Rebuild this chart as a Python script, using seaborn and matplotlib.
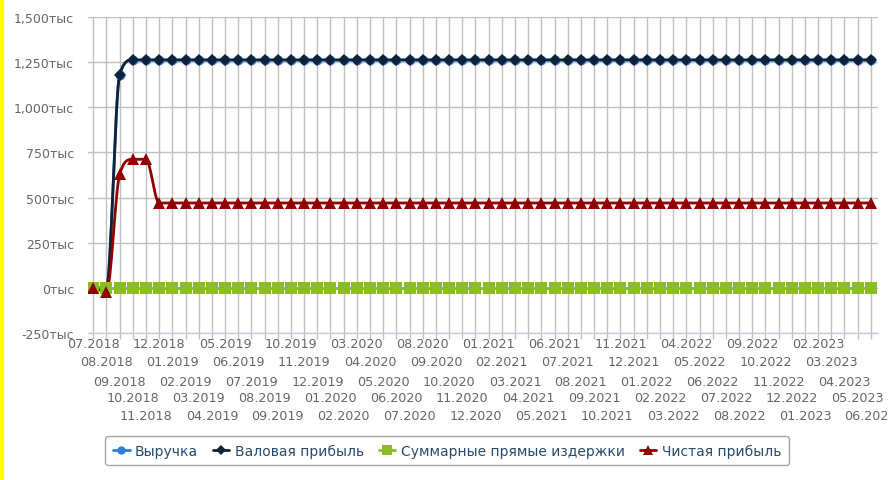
import numpy as np
import pandas as pd
import seaborn as sns
import matplotlib.pyplot as plt
from matplotlib.lines import Line2D
from matplotlib.patches import Rectangle

# months 07.2018 .. 06.2023
months = pd.period_range("2018-07", "2023-06", freq="M")
month_labels = [p.strftime("%m.%Y") for p in months]

n = len(months)
revenue = [0, 0, 1180] + [1262] * (n - 3)
gross_profit = [0, 0, 1180] + [1262] * (n - 3)
direct_costs = [0] * n
net_profit = [0, -25, 628, 712, 712, 470] + [470] * (n - 6)

series_names = ["Выручка", "Валовая прибыль", "Суммарные прямые издержки", "Чистая прибыль"]
series_values = [revenue, gross_profit, direct_costs, net_profit]
colors = ["#2f7ed8", "#0d233a", "#8bbc21", "#910000"]
markers = ["o", "D", "s", "^"]
msizes = [7, 6, 8, 8]

y_ticks = [-250, 0, 250, 500, 750, 1000, 1250, 1500]


def spline(x, y, steps=16):
    # monotone cubic curve through the data points (drawing only)
    x = np.asarray(x, float)
    y = np.asarray(y, float)
    d = np.diff(y)
    m = np.zeros_like(y)
    for i in range(1, len(y) - 1):
        if d[i - 1] * d[i] > 0:
            m[i] = (d[i - 1] + d[i]) / 2
            m[i] = np.sign(m[i]) * min(abs(m[i]), 3 * abs(d[i - 1]), 3 * abs(d[i]))
    xs, ys = [], []
    t = np.linspace(0, 1, steps, endpoint=False)
    h00 = 2 * t**3 - 3 * t**2 + 1
    h10 = t**3 - 2 * t**2 + t
    h01 = -2 * t**3 + 3 * t**2
    h11 = t**3 - t**2
    for i in range(len(x) - 1):
        xs.extend(x[i] + t)
        ys.extend(h00 * y[i] + h10 * m[i] + h01 * y[i + 1] + h11 * m[i + 1])
    xs.append(x[-1])
    ys.append(y[-1])
    return np.array(xs), np.array(ys)


sns.set_style("white")
plt.rcParams["font.family"] = ["DejaVu Sans"]

fig = plt.figure(figsize=(8.89, 4.81), dpi=100)
fig.patches.append(Rectangle((0, 0), 3 / 889, 1, transform=fig.transFigure,
                             color="#ffff00", zorder=0))
ax = fig.add_axes([88 / 889, 1 - 334 / 481, (877.7 - 88) / 889, (334 - 18) / 481])

x = np.arange(n)
for name, vals, c, m, ms in zip(series_names, series_values, colors, markers, msizes):
    sx, sy = spline(x, vals)
    curve = pd.DataFrame({"x": sx, "y": sy})
    sns.lineplot(data=curve, x="x", y="y", color=c, linewidth=2, sort=False,
                 ax=ax, zorder=3)
    pts = pd.DataFrame({"x": x, "y": vals})
    ax.plot(pts["x"], pts["y"], linestyle="none", marker=m, markersize=ms,
            color=c, markeredgewidth=0, zorder=4)

ax.set_xlim(-0.4, 59.52)
ax.set_ylim(-250, 1500)
ax.set_xlabel("")
ax.set_ylabel("")

ax.set_yticks(y_ticks)
ax.set_yticklabels([f"{v:,}тыс" for v in y_ticks], fontsize=9, color="#666666")
ax.tick_params(axis="y", length=0, pad=10)

# staggered month labels, five rows
ax.set_xticks(x)
ax.set_xticklabels([])
ax.tick_params(axis="x", length=4, width=1, color="#c0c0c0", direction="out")
ax.xaxis.set_ticks_position("bottom")
row_offsets = [11, 29, 48, 65, 83]
for i, lab in enumerate(month_labels):
    ax.annotate(lab, xy=(i, 0), xycoords=("data", "axes fraction"),
                xytext=(0, -row_offsets[i % 5] * 0.72), textcoords="offset points",
                ha="center", va="center", fontsize=9.2, color="#666666",
                annotation_clip=False)

ax.grid(True, color="#c0c0c0", linewidth=1)
for s in ["top", "right", "left"]:
    ax.spines[s].set_visible(False)
ax.spines["bottom"].set_color("#c0d0e0")
ax.spines["bottom"].set_linewidth(1)
ax.set_axisbelow(True)

handles = [Line2D([0], [0], color=c, marker=m, markersize=ms - 1, linewidth=2,
                  markeredgewidth=0)
           for c, m, ms in zip(colors, markers, msizes)]
leg = fig.legend(handles, series_names, loc="center", ncol=4,
                 bbox_to_anchor=(447 / 889, 1 - 451.5 / 481), frameon=True,
                 fontsize=10, handlelength=1.2, handletextpad=0.4, columnspacing=1.05,
                 fancybox=True, borderpad=0.55)
leg.get_frame().set_edgecolor("#909090")
leg.get_frame().set_linewidth(1)
for t in leg.get_texts():
    t.set_color("#274b6d")

fig.savefig("out.png", dpi=100)
